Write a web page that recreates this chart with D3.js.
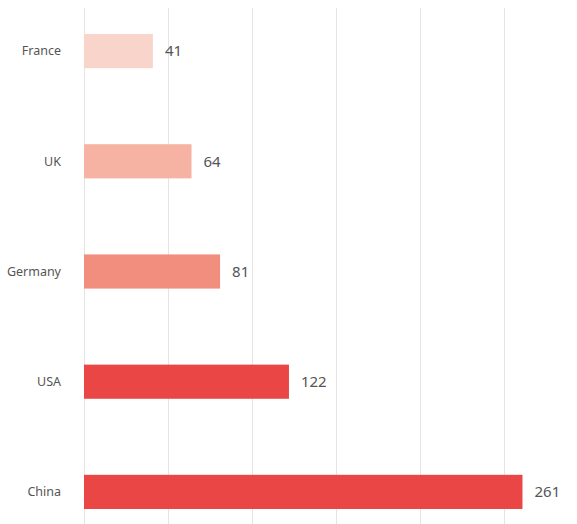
<!DOCTYPE html>
<html>
<head>
<meta charset="utf-8">
<script src="https://cdn.jsdelivr.net/npm/d3@7"></script>
<style>
  html, body { margin: 0; padding: 0; background: #fff; }
  svg { display: block; }
</style>
</head>
<body>
<svg id="chart" width="577" height="524"></svg>
<script>
// Data
const countries = ["France", "UK", "Germany", "USA", "China"];
const values = [41, 64, 81, 122, 261];
const barColors = ["#f9d4ca", "#f6b3a4", "#f28e7e", "#ea4646", "#ea4646"];
const gridTicks = [0, 50, 100, 150, 200, 250];

const width = 577, height = 524;
const svg = d3.select("#chart");

const x = d3.scaleLinear().domain([0, 50]).range([84, 168]);

const y = d3.scaleBand()
  .domain(countries)
  .range([-4, 547])
  .paddingInner(0.69)
  .paddingOuter(0.345);

// Vertical grid lines
svg.append("g")
  .selectAll("line")
  .data(gridTicks)
  .join("line")
  .attr("x1", d => Math.round(x(d)) + 0.5)
  .attr("x2", d => Math.round(x(d)) + 0.5)
  .attr("y1", 8)
  .attr("y2", height)
  .attr("stroke", "#e4e4e4")
  .attr("stroke-width", 1);

// Bars
svg.append("g")
  .selectAll("rect")
  .data(countries)
  .join("rect")
  .attr("x", x(0))
  .attr("y", d => y(d))
  .attr("width", (d, i) => x(values[i]) - x(0))
  .attr("height", y.bandwidth())
  .attr("fill", (d, i) => barColors[i]);

// Category labels
svg.append("g")
  .selectAll("text")
  .data(countries)
  .join("text")
  .attr("x", 61)
  .attr("y", d => y(d) + y.bandwidth() / 2)
  .attr("dy", "0.35em")
  .attr("text-anchor", "end")
  .attr("font-family", "'Noto Sans', sans-serif")
  .attr("font-size", 12.5)
  .attr("fill", "#555")
  .text(d => d);

// Value labels
svg.append("g")
  .selectAll("text")
  .data(countries)
  .join("text")
  .attr("x", (d, i) => x(values[i]) + 12)
  .attr("y", d => y(d) + y.bandwidth() / 2)
  .attr("dy", "0.35em")
  .attr("font-family", "'Noto Sans', sans-serif")
  .attr("font-size", 15)
  .attr("fill", "#555")
  .text((d, i) => values[i]);
</script>
</body>
</html>
